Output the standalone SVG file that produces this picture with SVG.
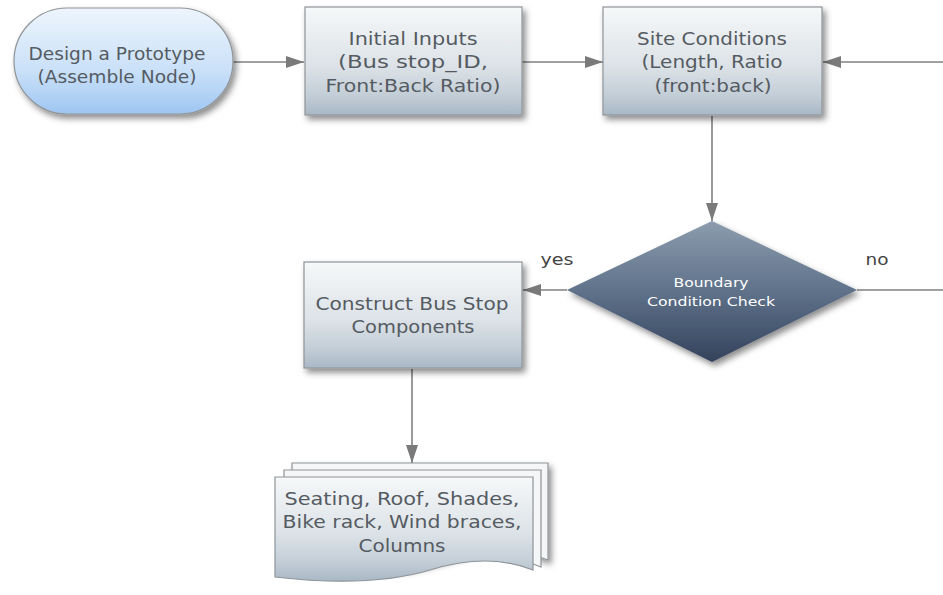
<svg xmlns="http://www.w3.org/2000/svg" width="943" height="595" viewBox="0 0 943 595">
<style>
.t{font-family:"DejaVu Sans","Verdana",sans-serif;font-size:17px;fill:#555b62;text-anchor:middle}
.w{font-family:"DejaVu Sans","Verdana",sans-serif;font-size:13px;fill:#ffffff;text-anchor:middle}
.l{font-family:"DejaVu Sans","Verdana",sans-serif;font-size:16px;fill:#444444;text-anchor:middle}
.box{fill:url(#gBox);stroke:#8f9498;stroke-width:1.2;filter:url(#sh)}
.ln{fill:none;stroke:#808080;stroke-width:1.6}
</style>
<defs>
<linearGradient id="gBox" x1="0" y1="0" x2="0" y2="1">
<stop offset="0" stop-color="#f6f8f9"/>
<stop offset="0.55" stop-color="#dce2e7"/>
<stop offset="0.8" stop-color="#c5cfd8"/>
<stop offset="1" stop-color="#a9b8c6"/>
</linearGradient>
<linearGradient id="gTerm" x1="0" y1="0" x2="0" y2="1">
<stop offset="0" stop-color="#eef5fd"/>
<stop offset="0.6" stop-color="#c9e0f8"/>
<stop offset="1" stop-color="#9ec6f2"/>
</linearGradient>
<linearGradient id="gDia" x1="0" y1="0" x2="0" y2="1">
<stop offset="0" stop-color="#8c9cae"/>
<stop offset="0.5" stop-color="#5f728a"/>
<stop offset="1" stop-color="#34425c"/>
</linearGradient>
<filter id="sh" x="-10%" y="-10%" width="125%" height="130%">
<feDropShadow dx="3" dy="4" stdDeviation="3" flood-color="#000" flood-opacity="0.45"/>
</filter>
<marker id="arB" viewBox="0 0 18 12" refX="18" refY="6" markerWidth="18" markerHeight="12" markerUnits="userSpaceOnUse" orient="auto">
<path d="M0,0 L18,6 L0,12 Z" fill="#7a7a7a"/>
</marker>
</defs>
<g id="connectors">
<line class="ln" x1="233" y1="62" x2="304" y2="62" marker-end="url(#arB)"/>
<line class="ln" x1="522" y1="62" x2="603" y2="62" marker-end="url(#arB)"/>
<line class="ln" x1="943" y1="62" x2="823" y2="62" marker-end="url(#arB)"/>
<line class="ln" x1="712" y1="116" x2="712" y2="221" marker-end="url(#arB)"/>
<line class="ln" x1="567" y1="290" x2="523" y2="290" marker-end="url(#arB)"/>
<line class="ln" x1="857" y1="290" x2="943" y2="290"/>
<line class="ln" x1="412" y1="369" x2="412" y2="463" marker-end="url(#arB)"/>
<text class="l" x="557" y="265" textLength="33" lengthAdjust="spacingAndGlyphs">yes</text>
<text class="l" x="877" y="265" textLength="23" lengthAdjust="spacingAndGlyphs">no</text>
</g>
<g id="start">
<rect x="14" y="8" width="219" height="106" rx="53" ry="53" fill="url(#gTerm)" stroke="#8f9498" stroke-width="1.2" filter="url(#sh)"/>
<text class="t" x="117" y="60" textLength="177" lengthAdjust="spacingAndGlyphs">Design a Prototype</text>
<text class="t" x="117" y="83" textLength="159" lengthAdjust="spacingAndGlyphs">(Assemble Node)</text>
</g>
<g id="initial">
<rect class="box" x="305" y="7" width="217" height="108"/>
<text class="t" x="413" y="45" textLength="129" lengthAdjust="spacingAndGlyphs">Initial Inputs</text>
<text class="t" x="413" y="68" textLength="150" lengthAdjust="spacingAndGlyphs">(Bus stop_ID,</text>
<text class="t" x="413" y="92" textLength="175" lengthAdjust="spacingAndGlyphs">Front:Back Ratio)</text>
</g>
<g id="site">
<rect class="box" x="603" y="7" width="219" height="108"/>
<text class="t" x="712" y="45" textLength="150" lengthAdjust="spacingAndGlyphs">Site Conditions</text>
<text class="t" x="712" y="68" textLength="141" lengthAdjust="spacingAndGlyphs">(Length, Ratio</text>
<text class="t" x="713" y="92" textLength="117" lengthAdjust="spacingAndGlyphs">(front:back)</text>
</g>
<g id="check">
<path d="M712,221 L857,290 L712,362 L567,290 Z" fill="url(#gDia)" filter="url(#sh)"/>
<text class="w" x="711" y="287" textLength="75" lengthAdjust="spacingAndGlyphs">Boundary</text>
<text class="w" x="711" y="306" textLength="128" lengthAdjust="spacingAndGlyphs">Condition Check</text>
</g>
<g id="construct">
<rect class="box" x="304" y="262" width="218" height="106"/>
<text class="t" x="412" y="310" textLength="193" lengthAdjust="spacingAndGlyphs">Construct Bus Stop</text>
<text class="t" x="413" y="333" textLength="123" lengthAdjust="spacingAndGlyphs">Components</text>
</g>
<g id="components">
<path d="M292,463 L548,463 L548,560 Q500,540 440,560 Q380,578 292,565 Z" fill="#f4f6f7" stroke="#8f9498" stroke-width="1.2" filter="url(#sh)"/>
<path d="M284,470 L541,470 L541,567 Q493,547 433,567 Q373,585 284,572 Z" fill="#f4f6f7" stroke="#8f9498" stroke-width="1.2"/>
<path d="M275,477 L533,477 L533,570 Q488,552 430,570 Q370,588 275,577 Z" fill="url(#gBox)" stroke="#8f9498" stroke-width="1.2"/>
<text class="t" x="402" y="505" textLength="235" lengthAdjust="spacingAndGlyphs">Seating, Roof, Shades,</text>
<text class="t" x="402" y="528" textLength="239" lengthAdjust="spacingAndGlyphs">Bike rack, Wind braces,</text>
<text class="t" x="402" y="552" textLength="87" lengthAdjust="spacingAndGlyphs">Columns</text>
</g>
</svg>
